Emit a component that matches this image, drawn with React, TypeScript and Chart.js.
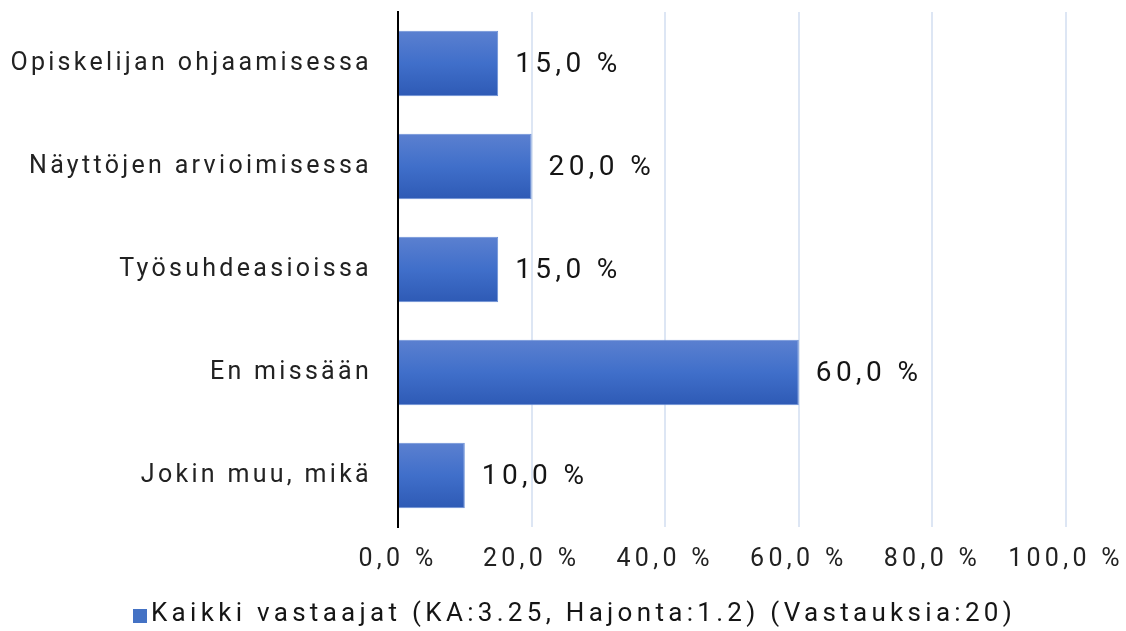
import React, { useEffect, useRef } from "react";
import { Chart, registerables } from "chart.js";

Chart.register(...registerables);

const categories = [
  "Opiskelijan ohjaamisessa",
  "Näyttöjen arvioimisessa",
  "Työsuhdeasioissa",
  "En missään",
  "Jokin muu, mikä",
];
const values = [15, 20, 15, 60, 10];
const seriesLabel = "Kaikki vastaajat (KA:3.25, Hajonta:1.2) (Vastauksia:20)";
const xMin = 0;
const xMax = 100;
const xStep = 20;

const FONT = "Roboto";
const fmt = (v: number) => v.toFixed(1).replace(".", ",") + " %";
const BAR_PCT = 0.635;

export default function App() {
  const ref = useRef<HTMLCanvasElement | null>(null);

  useEffect(() => {
    const canvas = ref.current;
    if (!canvas) return;

    const spacingPlugin = {
      id: "spacing",
      afterLayout(chart: any) {
        const pairs: [string, string][] = [
          ["x", "4.3px"],
          ["y", "3.3px"],
        ];
        for (const [id, sp] of pairs) {
          const s = chart.scales[id];
          if (s && !s._spWrapped) {
            const orig = s.drawLabels.bind(s);
            s.drawLabels = (ca: any) => {
              const c = s.ctx;
              c.save();
              c.letterSpacing = sp;
              orig(ca);
              c.restore();
            };
            s._spWrapped = true;
          }
        }
      },
    };

    const labelPlugin = {
      id: "labels",
      afterDatasetsDraw(chart: any) {
        const ctx = chart.ctx;
        const meta = chart.getDatasetMeta(0);
        ctx.save();
        ctx.letterSpacing = "4.4px";
        ctx.font = `28px ${FONT}`;
        ctx.fillStyle = "#151515";
        ctx.textAlign = "left";
        ctx.textBaseline = "middle";
        meta.data.forEach((bar: any, i: number) => {
          ctx.fillText(fmt(values[i]), bar.x + 17, bar.y + 1);
        });
        ctx.restore();
      },
      afterDraw(chart: any) {
        const ctx = chart.ctx;
        ctx.save();
        ctx.letterSpacing = "4.3px";
        ctx.font = `26px ${FONT}`;
        ctx.fillStyle = "#4472c4";
        ctx.fillRect(133, 609, 14, 14);
        ctx.fillStyle = "#151515";
        ctx.textAlign = "left";
        ctx.textBaseline = "middle";
        ctx.fillText(seriesLabel, 151, 614);
        ctx.restore();
      },
    };

    const chart = new Chart(canvas, {
      type: "bar",
      data: {
        labels: categories,
        datasets: [
          {
            label: seriesLabel,
            data: values,
            barPercentage: BAR_PCT,
            categoryPercentage: 1,
            borderWidth: 1,
            borderColor: "#6a8fd6",
            backgroundColor: (c: any) => {
              const ch = c.chart;
              const y = ch.scales?.y;
              if (!y || !ch.chartArea) return "#4170cb";
              const center = y.getPixelForValue(c.dataIndex);
              const band = (ch.chartArea.bottom - ch.chartArea.top) / categories.length;
              const half = (band * BAR_PCT) / 2;
              const g = ch.ctx.createLinearGradient(0, center - half, 0, center + half);
              g.addColorStop(0, "#5b80d0");
              g.addColorStop(0.5, "#406fca");
              g.addColorStop(1, "#2e5ab5");
              return g;
            },
          },
        ],
      },
      options: {
        indexAxis: "y",
        animation: false,
        responsive: false,
        maintainAspectRatio: false,
        devicePixelRatio: 1,
        layout: { padding: { top: 12, right: 60, bottom: 44, left: 0 } },
        plugins: {
          legend: { display: false },
          tooltip: { enabled: false },
        },
        scales: {
          x: {
            min: xMin,
            max: xMax,
            ticks: {
              stepSize: xStep,
              padding: 18,
              color: "#222",
              font: { family: FONT, size: 25 },
              callback: (v: any) => fmt(Number(v)),
            },
            grid: {
              color: "#dde6f4",
              lineWidth: 2,
              drawTicks: false,
            },
            border: { display: false },
            afterFit: (s: any) => {
              s.height = 60;
              s.paddingLeft = 0;
              s.paddingRight = 0;
            },
          },
          y: {
            ticks: {
              padding: 26,
              color: "#222",
              font: { family: FONT, size: 25 },
            },
            grid: { display: false, drawTicks: false },
            border: { display: true, color: "#000", width: 2 },
            afterFit: (s: any) => {
              s.width = 398;
              s.paddingTop = 0;
              s.paddingBottom = 0;
            },
          },
        },
      },
      plugins: [spacingPlugin, labelPlugin],
    } as any);

    return () => chart.destroy();
  }, []);

  return (
    <div style={{ position: "fixed", left: 0, top: 0, width: 1126, height: 631, background: "#fff" }}>
      <canvas ref={ref} width={1126} height={631} style={{ width: 1126, height: 631, display: "block" }} />
    </div>
  );
}
